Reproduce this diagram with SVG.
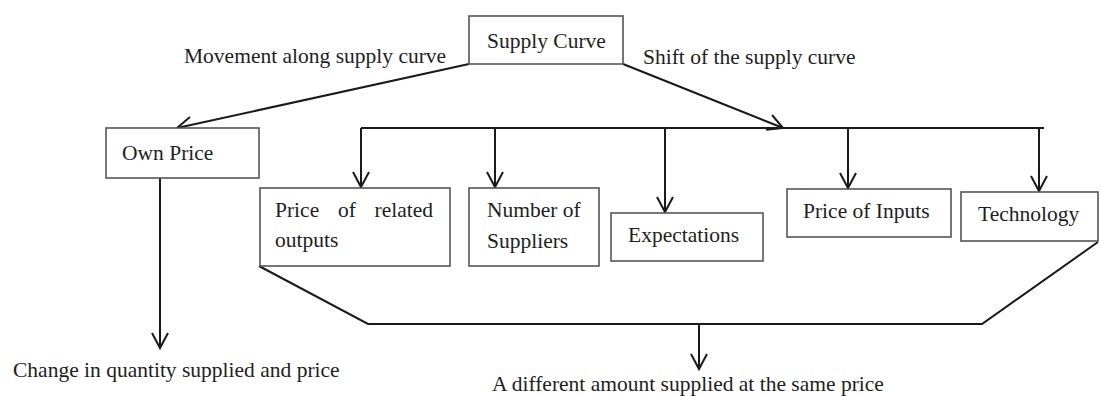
<svg xmlns="http://www.w3.org/2000/svg" width="1101" height="396" viewBox="0 0 1101 396">
  <style>
    .box { fill: #ffffff; stroke: #555555; stroke-width: 1.6; }
    .lbl { font-family: "Liberation Serif", "Times New Roman", serif; font-size: 21.5px; fill: #1e1e1e; }
    .wire { fill: none; stroke: #1a1a1a; stroke-width: 2; }
    .arr { marker-end: url(#vhead); }
  </style>
  <defs>
    <marker id="vhead" markerUnits="userSpaceOnUse" markerWidth="20" markerHeight="20" viewBox="-17 -10 19 20" refX="0" refY="0" orient="auto">
      <path d="M-15,-8 L0,0 L-15,8" fill="none" stroke="#1a1a1a" stroke-width="2"/>
    </marker>
  </defs>

  <rect width="1101" height="396" fill="#ffffff"/>

  <!-- connectors -->
  <g id="connectors">
    <path class="wire arr" d="M469,64 L177,128"/>
    <path class="wire arr" d="M623,64 L783,128"/>
    <path class="wire" d="M361,128 L1044,128"/>
    <path class="wire arr" d="M361,128 L361,187"/>
    <path class="wire arr" d="M495,128 L495,187"/>
    <path class="wire arr" d="M665,128 L665,212"/>
    <path class="wire arr" d="M848,128 L848,188"/>
    <path class="wire arr" d="M1039,128 L1039,191"/>
    <path class="wire arr" d="M160,178 L160,348"/>
    <path class="wire" d="M259,266 L368,324 L982,324 L1098,242"/>
    <path class="wire arr" d="M699,324 L699,369"/>
  </g>

  <!-- edge labels -->
  <g id="edge-labels">
    <text class="lbl" x="184" y="63">Movement along supply curve</text>
    <text class="lbl" x="643" y="64">Shift of the supply curve</text>
  </g>

  <g id="supply-curve">
    <rect class="box" x="469" y="16" width="154" height="48"/>
    <text class="lbl" x="487" y="48">Supply Curve</text>
  </g>

  <g id="own-price">
    <rect class="box" x="106" y="128" width="153" height="50"/>
    <text class="lbl" x="122" y="160">Own Price</text>
  </g>

  <g id="related-outputs">
    <rect class="box" x="260" y="188" width="190" height="78"/>
    <text class="lbl" x="275" y="217">Price</text>
    <text class="lbl" x="338" y="217">of</text>
    <text class="lbl" x="433" y="217" text-anchor="end">related</text>
    <text class="lbl" x="275" y="247">outputs</text>
  </g>

  <g id="suppliers">
    <rect class="box" x="469" y="188" width="130" height="78"/>
    <text class="lbl" x="487" y="217">Number of</text>
    <text class="lbl" x="487" y="248">Suppliers</text>
  </g>

  <g id="expectations">
    <rect class="box" x="611" y="213" width="152" height="48"/>
    <text class="lbl" x="628" y="242">Expectations</text>
  </g>

  <g id="input-prices">
    <rect class="box" x="787" y="189" width="164" height="48"/>
    <text class="lbl" x="803" y="218">Price of Inputs</text>
  </g>

  <g id="technology">
    <rect class="box" x="961" y="192" width="137" height="49"/>
    <text class="lbl" x="978" y="221">Technology</text>
  </g>

  <g id="outcome-movement">
    <text class="lbl" x="13" y="377">Change in quantity supplied and price</text>
  </g>

  <g id="outcome-shift">
    <text class="lbl" x="492" y="391">A different amount supplied at the same price</text>
  </g>
</svg>
